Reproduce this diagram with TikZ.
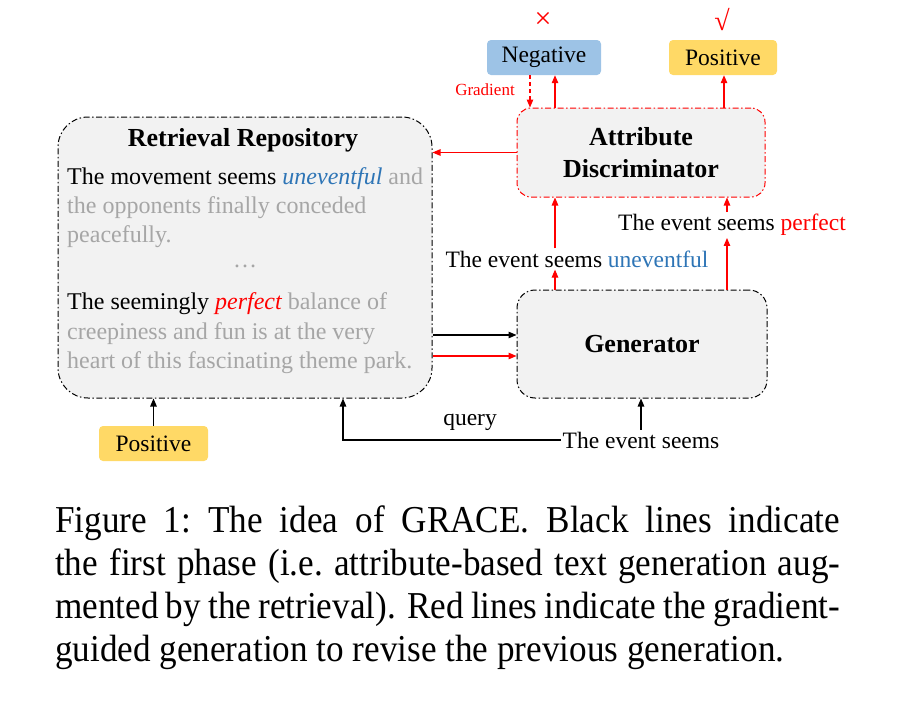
\documentclass[tikz,border=0pt]{standalone}
\usepackage{fontspec}
\setmainfont{Liberation Serif}
\newfontfamily\capfont[FakeStretch=0.925]{Liberation Serif}
\usetikzlibrary{arrows.meta,positioning,calc}

\definecolor{boxgray}{HTML}{F2F2F2}
\definecolor{txtgray}{HTML}{A6A6A6}
\definecolor{negblue}{HTML}{9DC3E6}
\definecolor{posyellow}{HTML}{FFD966}
\definecolor{wordblue}{HTML}{2E75B6}

\newcommand{\capline}[1]{\makebox[785pt][s]{#1}}

\begin{document}
\begin{tikzpicture}[x=1pt,y=-1pt,
  dashdot/.style={dash pattern=on 6pt off 2.5pt on 1.5pt off 2.5pt},
  block/.style={draw,dashdot,fill=boxgray,line width=1pt,inner sep=0pt,align=center},
  tag/.style={rounded corners=4pt,minimum height=35pt,inner sep=0pt,font=\fontsize{23.5}{26}\selectfont},
  txt/.style={inner sep=0pt,font=\fontsize{23.5}{29}\selectfont},
  arr/.style={-{Triangle[length=8pt,width=6.5pt]},line width=1.1pt},
  rarr/.style={arr,red}]
\useasboundingbox (0,0) rectangle (906,707);

% boxes
\node[block,rounded corners=30pt,minimum width=374pt,minimum height=281pt] (repo) at (245,257.5) {};
\node[block,draw=red,rounded corners=14pt,minimum width=248pt,minimum height=89pt,
  font=\fontsize{26}{32}\selectfont\bfseries] (disc) at (641,152.5) {Attribute\\Discriminator};
\node[block,rounded corners=18pt,minimum width=250pt,minimum height=108pt,
  font=\fontsize{26}{32}\selectfont\bfseries] (gen) at (642,344) {Generator};

% attribute tags
\node[tag,fill=negblue,minimum width=114pt] (neg) at (544,57.5) {Negative};
\node[tag,fill=posyellow,minimum width=108pt] (postop) at (723,57.5) {Positive};
\node[tag,fill=posyellow,minimum width=109pt] (posbot) at (153.5,443.5) {Positive};
\node[red,inner sep=0pt,font=\fontsize{30}{32}\selectfont] (cross) at (543,20) {×};
\node[red,inner sep=0pt,font=\fontsize{28}{32}\selectfont] (check) at (722,20) {√};
\node[red,inner sep=0pt,font=\fontsize{17}{20}\selectfont] (grad) at (485,90) {Gradient};

% repository content
\node[txt,font=\fontsize{26}{32}\selectfont\bfseries] (title) at (243,140) {Retrieval Repository};
\begin{scope}[txt/.append style={font=\fontsize{24}{29}\selectfont}]
\node[txt,anchor=base west] (l1) at (67,184) {The movement seems \textcolor{wordblue}{\itshape uneventful} \textcolor{txtgray}{and}};
\node[txt,anchor=base west,txtgray] (l2) at (67,213) {the opponents finally conceded};
\node[txt,anchor=base west,txtgray] (l3) at (67,242) {peacefully.};
\node[txt,txtgray] (dots) at (245,266) {\dots};
\node[txt,anchor=base west] (l4) at (67,309) {The seemingly \textcolor{red}{\itshape perfect} \textcolor{txtgray}{balance of}};
\node[txt,anchor=base west,txtgray] (l5) at (67,339) {creepiness and fun is at the very};
\node[txt,anchor=base west,txtgray] (l6) at (67,368) {heart of this fascinating theme park.};
\end{scope}

% generated sentences
\node[txt,inner sep=2pt] (outneg) at (577,259) {The event seems \textcolor{wordblue}{uneventful}};
\node[txt,inner sep=2pt] (outpos) at (732,225) {The event seems \textcolor{red}{perfect}};
\node[txt,inner sep=2pt] (prompt) at (641,440) {The event seems};
\node[txt,inner sep=2pt] (query) at (470,422) {query};

% first phase
\draw[arr] (posbot) -- (posbot |- repo.south);
\draw[arr] (prompt.west) -| (343,0 |- repo.south);
\draw[arr] (prompt) -- (prompt |- gen.south);
\draw[arr] (repo.east |- 0,335) -- (gen.west |- 0,335);

% gradient-guided revision
\draw[rarr] (repo.east |- 0,356) -- (gen.west |- 0,356);
\draw[rarr] (gen.north -| 555,0) -- (outneg.south -| 555,0);
\draw[rarr] (outneg.north -| 555,0) -- (disc.south -| 555,0);
\draw[rarr] (gen.north -| 727,0) -- (outpos.south -| 727,0);
\draw[rarr] (outpos.north -| 727,0) -- (disc.south -| 727,0);
\draw[rarr] (disc.north -| 555,0) -- (neg.south -| 555,0);
\draw[rarr] (disc.north -| 724,0) -- (postop.south -| 724,0);
\draw[rarr,dash pattern=on 4pt off 3pt] (neg.south -| 530,0) -- (disc.north -| 530,0);
\draw[rarr] (disc.west) -- (disc.west -| repo.east);

% caption
\node[anchor=north west,inner sep=0pt,align=left,
  font=\fontsize{38}{43}\capfont] (caption) at (55,506)
  {\capline{Figure 1:\  The idea of GRACE. Black lines indicate}\\
   \capline{the first phase (i.e.\ attribute-based text generation aug-}\\
   \capline{mented by the retrieval). Red lines indicate the gradient-}\\
   guided generation to revise the previous generation.};
\end{tikzpicture}
\end{document}
